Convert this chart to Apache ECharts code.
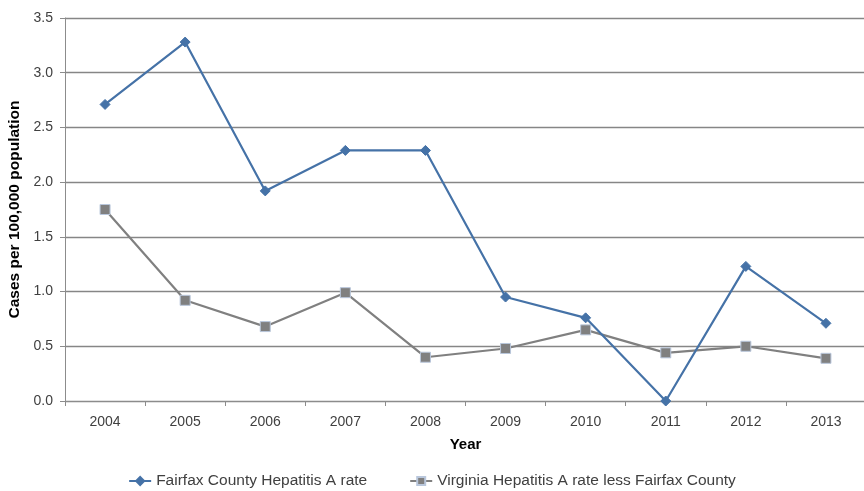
<!DOCTYPE html>
<html>
<head>
<meta charset="utf-8">
<script src="https://cdn.jsdelivr.net/npm/echarts@6/dist/echarts.min.js"></script>
<style>
  html, body { margin: 0; padding: 0; background: #fff; }
  #chart { width: 864px; height: 491px; }
</style>
</head>
<body>
<div id="chart"></div>
<script>
// Hepatitis A rates per 100,000 population, 2004-2013
const years = ['2004', '2005', '2006', '2007', '2008', '2009', '2010', '2011', '2012', '2013'];
const fairfaxRate = [2.71, 3.28, 1.92, 2.29, 2.29, 0.95, 0.76, 0.0, 1.23, 0.71];
const virginiaRate = [1.75, 0.92, 0.68, 0.99, 0.40, 0.48, 0.65, 0.44, 0.50, 0.39];
const yTicks = { min: 0, max: 3.5, interval: 0.5 };

const FONT = '"Liberation Sans", Arial, sans-serif';
const TEXT = '#404040';

const chart = echarts.init(document.getElementById('chart'), null, { renderer: 'canvas' });
chart.setOption({
  animation: false,
  textStyle: { fontFamily: FONT },
  grid: { left: 65, top: 18, width: 801, height: 383, containLabel: false, outerBoundsMode: 'none' },
  legend: {
    bottom: -3,
    left: 'center',
    itemGap: 42,
    itemWidth: 22,
    itemHeight: 10,
    textStyle: { fontFamily: FONT, fontSize: 15.5, color: TEXT },
    data: ['Fairfax County Hepatitis A rate', 'Virginia Hepatitis A rate less Fairfax County']
  },
  xAxis: {
    type: 'category',
    data: years,
    boundaryGap: true,
    name: 'Year',
    nameLocation: 'middle',
    nameGap: 36,
    nameTextStyle: { fontFamily: FONT, fontSize: 15, fontWeight: 'bold', color: '#000' },
    axisLine: { lineStyle: { color: '#8c8c8c', width: 1 } },
    axisTick: { show: true, alignWithLabel: false, length: 5, lineStyle: { color: '#8c8c8c' } },
    axisLabel: { fontFamily: FONT, fontSize: 14, color: TEXT, margin: 14 }
  },
  yAxis: {
    type: 'value',
    min: yTicks.min,
    max: yTicks.max,
    interval: yTicks.interval,
    name: 'Cases per 100,000 population',
    nameLocation: 'middle',
    nameGap: 35,
    nameTextStyle: { fontFamily: FONT, fontSize: 15.5, fontWeight: 'bold', color: '#000' },
    axisLine: { show: true, lineStyle: { color: '#8c8c8c', width: 1 } },
    axisTick: { show: true, length: 5, lineStyle: { color: '#8c8c8c' } },
    axisLabel: { fontFamily: FONT, fontSize: 14, color: TEXT, margin: 12, formatter: v => v.toFixed(1) },
    splitLine: { show: true, lineStyle: { color: '#868686', width: 1.4 } }
  },
  series: [
    {
      name: 'Fairfax County Hepatitis A rate',
      type: 'line',
      data: fairfaxRate,
      symbol: 'diamond',
      symbolSize: 10,
      lineStyle: { color: '#4572a7', width: 2.2 },
      itemStyle: { color: '#4572a7', borderColor: '#4572a7', borderWidth: 1 },
      z: 3
    },
    {
      name: 'Virginia Hepatitis A rate less Fairfax County',
      type: 'line',
      data: virginiaRate,
      symbol: 'rect',
      symbolSize: 10,
      lineStyle: { color: '#808080', width: 2.2 },
      itemStyle: { color: '#808080', borderColor: '#b9c7dc', borderWidth: 1 },
      z: 2
    }
  ]
});
</script>
</body>
</html>
